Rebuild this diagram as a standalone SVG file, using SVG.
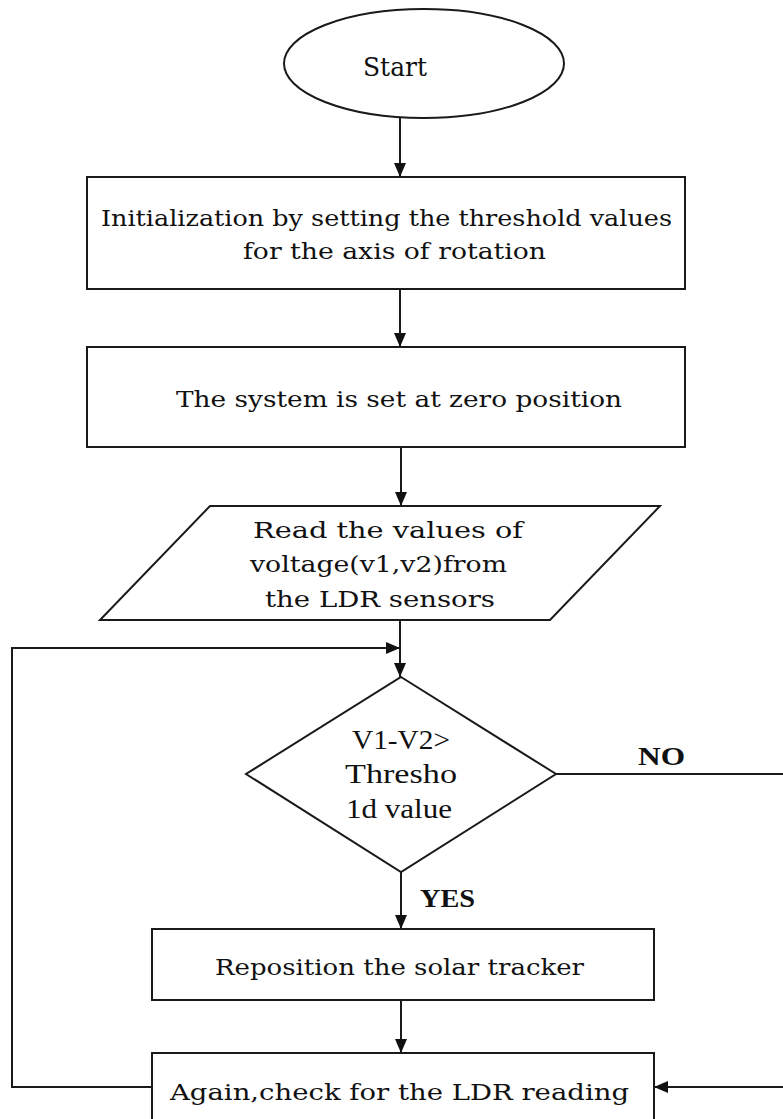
<svg xmlns="http://www.w3.org/2000/svg" width="783" height="1119" viewBox="0 0 783 1119">
<style>
.shape{fill:#fff;stroke:#1a1a1a;stroke-width:2}
.t{font-family:"DejaVu Serif","Liberation Serif",serif;font-size:23px;fill:#111}
.d{font-family:"Liberation Serif","DejaVu Serif",serif;font-size:27px;fill:#111}
.b{font-family:"Liberation Serif","DejaVu Serif",serif;font-size:26px;font-weight:bold;fill:#111}
.c{fill:none;stroke:#1a1a1a;stroke-width:2}
</style>
<defs>
<marker id="arr" viewBox="0 0 14 12" refX="14" refY="6" markerWidth="14" markerHeight="12" markerUnits="userSpaceOnUse" orient="auto">
<path d="M0,0 L14,6 L0,12 z" fill="#111"/>
</marker>
</defs>
<rect width="783" height="1119" fill="#fff"/>
<g id="connectors">
<line class="c" x1="400" y1="118" x2="400" y2="177" marker-end="url(#arr)"/>
<line class="c" x1="400" y1="289" x2="400" y2="347" marker-end="url(#arr)"/>
<line class="c" x1="401" y1="447" x2="401" y2="506" marker-end="url(#arr)"/>
<line class="c" x1="400" y1="620" x2="400" y2="677" marker-end="url(#arr)"/>
<polyline class="c" points="152,1087 12,1087 12,648 400,648" marker-end="url(#arr)"/>
<polyline class="c" points="556,774 800,774 800,1087 654,1087" marker-end="url(#arr)"/>
<line class="c" x1="401" y1="872" x2="401" y2="929" marker-end="url(#arr)"/>
<line class="c" x1="401" y1="1000" x2="401" y2="1053" marker-end="url(#arr)"/>
<text class="b" x="638" y="765" textLength="47" lengthAdjust="spacingAndGlyphs">NO</text>
<text class="b" x="420" y="907" textLength="55" lengthAdjust="spacingAndGlyphs">YES</text>
</g>
<g id="start">
<ellipse class="shape" cx="424" cy="63.5" rx="140" ry="54.5"/>
<text class="t" x="363" y="76" style="font-size:26px" textLength="64" lengthAdjust="spacingAndGlyphs">Start</text>
</g>
<g id="init">
<rect class="shape" x="87" y="177" width="598" height="112"/>
<text class="t" x="101" y="226" textLength="571" lengthAdjust="spacingAndGlyphs">Initialization  by setting the threshold values</text>
<text class="t" x="243" y="259" textLength="303" lengthAdjust="spacingAndGlyphs">for the axis  of rotation</text>
</g>
<g id="zero">
<rect class="shape" x="87" y="347" width="598" height="100"/>
<text class="t" x="176" y="407" textLength="446" lengthAdjust="spacingAndGlyphs">The system is set at zero position</text>
</g>
<g id="read">
<polygon class="shape" points="210,506 660,506 550,620 100,620"/>
<text class="t" x="253" y="538" textLength="270" lengthAdjust="spacingAndGlyphs">Read the values of</text>
<text class="t" x="250" y="572" textLength="257" lengthAdjust="spacingAndGlyphs">voltage(v1,v2)from</text>
<text class="t" x="265" y="607" textLength="230" lengthAdjust="spacingAndGlyphs">the LDR  sensors</text>
</g>
<g id="decision">
<polygon class="shape" points="401,677 556,774 401,872 246,774"/>
<text class="d" x="352" y="749" textLength="98" lengthAdjust="spacingAndGlyphs">V1-V2&gt;</text>
<text class="d" x="345" y="783" textLength="112" lengthAdjust="spacingAndGlyphs">Thresho</text>
<text class="d" x="346" y="818" textLength="106" lengthAdjust="spacingAndGlyphs">1d value</text>
</g>
<g id="reposition">
<rect class="shape" x="152" y="929" width="502" height="71"/>
<text class="t" x="215" y="975" textLength="369" lengthAdjust="spacingAndGlyphs">Reposition the solar tracker</text>
</g>
<g id="again">
<rect class="shape" x="152" y="1053" width="502" height="80"/>
<text class="t" x="170" y="1100" textLength="459" lengthAdjust="spacingAndGlyphs">Again,check for the LDR  reading</text>
</g>
</svg>
